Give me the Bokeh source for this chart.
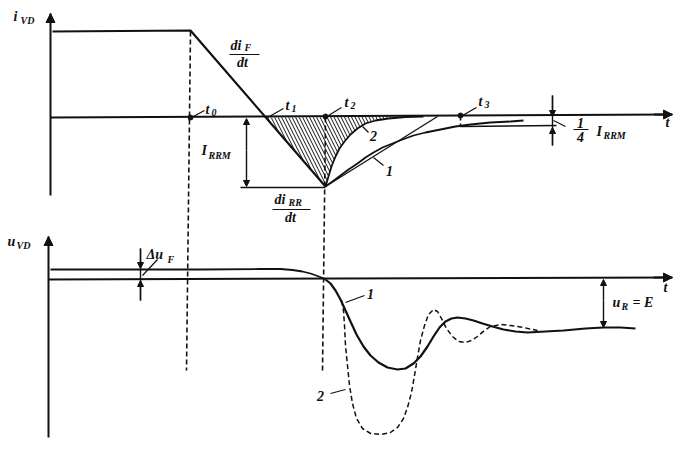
from bokeh.plotting import figure
from bokeh.models import Range1d, Arrow, NormalHead
from bokeh.core.properties import value
from bokeh.embed import file_html
from bokeh.resources import INLINE

# ---- data (schematic coordinates) ----
# top panel: diode current i_VD
i_axis_x = [50, 50]; i_axis_y = [195, 13]
t_axis_top_x = [50, 672]; t_axis_top_y = [117, 114]
iF_x = [52, 190, 325]; iF_y = [31, 30, 186]          # forward level + di_F/dt ramp to -I_RRM
curve1_x = [325, 332, 340, 348, 357, 365, 373, 382, 392, 402, 413, 425, 440, 455, 470, 490, 510, 523]
curve1_y = [186, 181, 175, 169, 163, 157, 152, 147, 143, 139, 135, 132, 129, 126, 124, 122, 121, 120]
curve2_x = [325, 328, 331, 335, 339, 344, 350, 357, 365, 375, 388, 405, 423]
curve2_y = [186, 176, 166, 156, 148, 141, 134, 128, 123, 120, 118, 116.5, 116]
tangent_x = [325, 437]; tangent_y = [186, 116]
quarter_x = [460, 556]; quarter_y = [126, 125]
irrm_ref_x = [240, 325]; irrm_ref_y = [187, 187]
t_marks_x = [190, 325, 460]; t_marks_y = [117, 116, 115]

# bottom panel: diode voltage u_VD
u_axis_x = [48, 48]; u_axis_y = [437, 236]
t_axis_bot_x = [48, 672]; t_axis_bot_y = [279, 277]
uF_x = [50, 200, 260, 280, 292, 302, 310, 317, 322, 325]
uF_y = [269, 269, 268.5, 268.5, 269.5, 271, 273, 275.5, 277.5, 279]
u1_x = [325, 330, 335, 340, 345, 350, 356, 363, 370, 378, 387, 397, 405, 413, 420, 427, 433,
        439, 445, 451, 457, 465, 473, 482, 492, 503, 515, 527, 545, 563, 585, 603, 620, 635]
u1_y = [279, 283, 290, 299, 310, 321, 334, 346, 355, 362, 367, 369, 368, 363, 356, 346, 336,
        327, 321, 318, 317, 318, 320, 323, 326, 329, 331, 332, 331, 330, 328, 327, 327, 328]
u2_x = [341, 343, 344, 345, 347, 349, 352, 356, 362, 370, 380, 390, 397, 403, 407, 411, 414,
        417, 420, 424, 428, 433, 437, 441, 446, 452, 458, 465, 471, 477, 484, 490, 500, 510, 523, 537]
u2_y = [300, 310, 325, 345, 365, 385, 403, 418, 428, 433, 434, 432, 427, 418, 407, 392, 375,
        357, 340, 325, 314, 309, 311, 318, 328, 336, 341, 342, 340, 336, 330, 326, 324, 325, 327, 330]

# dashed time markers
dash_x0 = [190, 325, 460]; dash_y0 = [31, 117, 115]
dash_x1 = [186, 322, 460]; dash_y1 = [370, 370, 126]

# leader lines
lead_x0 = [191, 267, 328, 462, 362, 373, 553, 142, 345, 330]
lead_y0 = [117, 117, 115, 115, 126, 157, 120, 275, 302, 393]
lead_x1 = [204, 283, 341, 476, 368, 383, 565, 157, 364, 345]
lead_y1 = [110, 108, 107, 107, 132, 165, 126, 259, 295, 389]

# fraction bars
bar_x0 = [229, 272, 573]; bar_x1 = [259, 310, 588]; bar_y = [54, 209, 129]

# texts (left aligned)
txt = ["i", "u", "t", "t", "t", "t", "di", "di", "I", "I", "\u0394u", "u", "= E"]
txt_x = [13, 7, 205, 285, 344, 478, 230, 274, 201, 596, 146, 612, 632]
txt_y = [16, 241, 109, 105, 102, 101, 45, 199, 150, 131, 254, 302, 302]
sub = ["VD", "VD", "0", "1", "2", "3", "F", "RR", "RRM", "RRM", "F", "R"]
sub_x = [20, 16, 211, 291, 350, 484, 244, 288, 208, 603, 167, 621]
sub_y = [20, 245, 112, 108, 105, 104, 47, 202, 155, 135, 259, 306]
# centred texts
ctxt = ["dt", "dt", "1", "4", "t", "t", "2", "1", "1", "2"]
ctxt_x = [242, 290, 580, 580, 667, 665, 373, 389, 370, 320]
ctxt_y = [62, 217, 122, 136, 122, 287, 135, 170, 293, 395]

# ---- figure ----
p = figure(width=674, height=442, output_backend="svg", toolbar_location=None,
           x_axis_type=None, y_axis_type=None,
           x_range=Range1d(0, 674), y_range=Range1d(442, 0),
           min_border=0, min_border_left=0, min_border_right=0,
           min_border_top=0, min_border_bottom=0)
p.outline_line_color = None
p.grid.visible = False
p.background_fill_color = "white"

ink = "#111111"

# hatched area
hx = [265] + curve2_x + [265]
hy = [117] + curve2_y + [117]
p.patch(hx, hy, fill_color=None, line_color=None, hatch_pattern="\\",
        hatch_color=ink, hatch_scale=7, hatch_weight=1)

# axes with arrow heads
for xs, ys in [(i_axis_x, i_axis_y), (t_axis_top_x, t_axis_top_y),
               (u_axis_x, u_axis_y), (t_axis_bot_x, t_axis_bot_y)]:
    p.line(xs, ys, line_color=ink, line_width=2)
    p.add_layout(Arrow(end=NormalHead(size=9, fill_color=ink, line_color=ink),
                       x_start=xs[0] + (xs[-1] - xs[0]) * 0.97, y_start=ys[0] + (ys[-1] - ys[0]) * 0.97,
                       x_end=xs[-1], y_end=ys[-1], line_color=ink, line_width=2))

# current curves
p.line(iF_x, iF_y, line_color=ink, line_width=2.2)
p.line(curve1_x, curve1_y, line_color=ink, line_width=1.8)
p.line(curve2_x, curve2_y, line_color=ink, line_width=1.8)
p.line(tangent_x, tangent_y, line_color=ink, line_width=1.3)
p.line(quarter_x, quarter_y, line_color=ink, line_width=1.3)
p.line(irrm_ref_x, irrm_ref_y, line_color=ink, line_width=1.5)
p.scatter(t_marks_x, t_marks_y, size=5, color=ink)

# voltage curves
p.line(uF_x, uF_y, line_color=ink, line_width=1.8)
p.line(u1_x, u1_y, line_color=ink, line_width=2.2)
p.line(u2_x, u2_y, line_color=ink, line_width=1.5, line_dash="5 3")

# dashed markers
p.segment(dash_x0, dash_y0, dash_x1, dash_y1, line_color=ink, line_width=1.6, line_dash="5 3")
# leaders & bars
p.segment(lead_x0, lead_y0, lead_x1, lead_y1, line_color=ink, line_width=1.2)
p.segment(bar_x0, bar_y, bar_x1, bar_y, line_color=ink, line_width=1.2)

# measure arrows
def arr(x0, y0, x1, y1):
    p.add_layout(Arrow(end=NormalHead(size=6, fill_color=ink, line_color=ink),
                       x_start=x0, y_start=y0, x_end=x1, y_end=y1,
                       line_color=ink, line_width=1.4))

arr(246, 150, 246, 118); arr(246, 150, 246, 186)        # I_RRM
arr(552, 95, 552, 116); arr(552, 145, 552, 127)         # 1/4 I_RRM
p.line([552, 552], [95, 145], line_color=ink, line_width=1.4)
arr(140, 248, 140, 268); arr(140, 300, 140, 280)         # delta u_F
p.line([140, 140], [248, 300], line_color=ink, line_width=1.4)
arr(603, 300, 603, 279); arr(603, 300, 603, 327)         # u_R = E

font = value("Liberation Serif")
common = dict(text_font=font, text_font_style="bold italic", text_color=ink, text_baseline="middle")
p.text(txt_x, txt_y, text=txt, text_font_size="14px", text_align="left", **common)
p.text(sub_x, sub_y, text=sub, text_font_size="10px", text_align="left", **common)
p.text(ctxt_x, ctxt_y, text=ctxt, text_font_size="14px", text_align="center", **common)

open("out.html", "w").write(file_html(p, INLINE))
